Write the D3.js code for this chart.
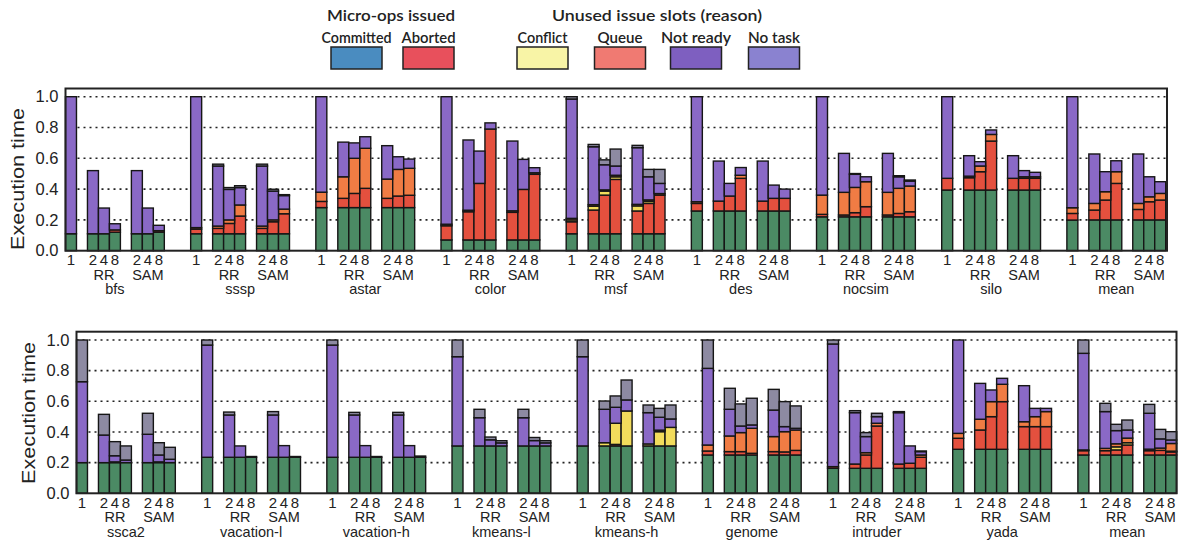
<!DOCTYPE html>
<html>
<head>
<meta charset="utf-8">
<script src="https://cdn.jsdelivr.net/npm/d3@7"></script>
<style>
  body { margin: 0; background: #fff; }
  svg { display: block; }
</style>
</head>
<body>
<div id="chart"></div>
<script>
// stacked execution time breakdown, two rows of benchmarks
// each benchmark: 1 core, then RR 2/4/8 and SAM 2/4/8

const seriesNames = ["Committed", "Aborted", "Conflict", "Queue", "Not ready", "No task"];
const barColors = ["#4b8a64", "#e4503e", "#f2dc5c", "#f07c44", "#8a69c6", "#8d8aa2"];
const legendColors = ["#4a8cc0", "#e8505c", "#f8f4a6", "#f07a72", "#7e5fc0", "#8a82d0"];
const barLabels = ["1", "2", "4", "8", "2", "4", "8"];
const schemeLabels = ["RR", "SAM"];
const yTicks = [0, 0.2, 0.4, 0.6, 0.8, 1.0];

const topBenchmarks = ["bfs", "sssp", "astar", "color", "msf", "des", "nocsim", "silo", "mean"];
const bottomBenchmarks = ["ssca2", "vacation-l", "vacation-h", "kmeans-l", "kmeans-h", "genome", "intruder", "yada", "mean"];

// top row, one list of 7 bars per benchmark
const topCommitted = [
  [.11, .11, .11, .12, .11, .11, .12],
  [.11, .11, .11, .11, .11, .11, .11],
  [.28, .28, .28, .28, .28, .28, .28],
  [.07, .07, .07, .07, .07, .07, .07],
  [.11, .11, .11, .11, .11, .11, .11],
  [.258, .258, .258, .258, .258, .258, .258],
  [.22, .22, .22, .22, .22, .22, .22],
  [.394, .394, .394, .394, .394, .394, .394],
  [.199, .2, .2, .2, .2, .2, .2]
];
const topAborted = [
  [0, 0, 0, .015, 0, 0, .01],
  [.03, .035, .067, .115, .035, .078, .13],
  [.04, .06, .092, .125, .06, .075, .08],
  [.092, .183, .367, .72, .179, .328, .426],
  [.078, .154, .251, .353, .148, .197, .251],
  [.049, .064, .097, .212, .064, .082, .082],
  [.016, .012, .027, .066, .012, .022, .033],
  [.076, .08, .119, .318, .076, .076, .076],
  [.043, .064, .129, .237, .068, .118, .129]
];
const topConflict = [
  [0, 0, 0, 0, 0, 0, 0],
  [0, 0, 0, 0, 0, 0, 0],
  [0, 0, 0, 0, 0, 0, 0],
  [0, 0, 0, 0, 0, 0, 0],
  [.012, .025, .026, .017, .033, .013, 0],
  [0, 0, 0, 0, 0, 0, 0],
  [0, 0, 0, 0, 0, 0, 0],
  [0, 0, 0, 0, 0, 0, 0],
  [0, 0, 0, 0, 0, 0, 0]
];
const topQueue = [
  [0, 0, 0, 0, 0, 0, 0],
  [.01, .015, .023, .072, .015, .012, .03],
  [.06, .14, .228, .26, .125, .173, .175],
  [.01, .01, 0, 0, .01, 0, .01],
  [.01, .01, .008, .01, .01, .01, .01],
  [.011, 0, 0, .02, 0, 0, 0],
  [.125, .147, .164, .162, .147, .163, .167],
  [0, .01, .037, .043, 0, .01, .01],
  [.037, .043, .054, .076, .039, .032, .043]
];
const topNotReady = [
  [.89, .41, .167, .04, .41, .167, .035],
  [.85, .39, .198, .113, .39, .187, .088],
  [.62, .225, .1, .075, .217, .082, .06],
  [.828, .456, .21, .04, .453, .195, .033],
  [.775, .376, .163, .06, .368, .15, .066],
  [.682, .26, .082, .05, .26, .086, .06],
  [.639, .253, .085, .032, .253, .075, .032],
  [.53, .133, .028, .029, .147, .04, .029],
  [.721, .321, .13, .071, .321, .13, .076]
];
const topNoTask = [
  [0, 0, 0, 0, 0, 0, 0],
  [0, .012, .012, .012, .012, .012, .006],
  [0, 0, 0, 0, 0, 0, 0],
  [0, 0, 0, 0, 0, 0, 0],
  [.015, .015, .032, .11, .015, .048, .091],
  [0, 0, 0, 0, 0, 0, 0],
  [0, 0, .005, 0, 0, .007, .007],
  [0, 0, 0, 0, 0, 0, 0],
  [0, 0, 0, 0, 0, 0, 0]
];

// bottom row
const bottomCommitted = [
  [.2, .2, .2, .2, .2, .2, .2],
  [.235, .235, .235, .235, .235, .235, .235],
  [.235, .235, .235, .235, .235, .235, .235],
  [.309, .309, .309, .309, .309, .309, .309],
  [.309, .309, .309, .309, .309, .309, .309],
  [.25, .25, .25, .25, .25, .25, .25],
  [.163, .163, .163, .163, .163, .163, .163],
  [.287, .287, .287, .287, .287, .287, .287],
  [.25, .25, .25, .25, .25, .25, .25]
];
const bottomAborted = [
  [0, 0, 0, 0, 0, 0, 0],
  [0, 0, 0, 0, 0, 0, 0],
  [0, 0, 0, 0, 0, 0, 0],
  [0, 0, 0, 0, 0, 0, 0],
  [0, 0, .01, 0, 0, 0, 0],
  [.026, .022, .022, .011, .022, .02, .03],
  [.011, .028, .087, .276, .028, .033, .072],
  [.072, .126, .213, .311, .148, .148, .148],
  [.028, .028, .033, .065, .028, .03, .02]
];
const bottomConflict = [
  [0, 0, .005, 0, 0, .005, 0],
  [0, 0, 0, 0, 0, 0, 0],
  [0, 0, 0, 0, 0, 0, 0],
  [0, 0, 0, 0, 0, 0, 0],
  [0, .021, .138, .228, .013, .093, .121],
  [0, 0, 0, 0, 0, 0, 0],
  [0, 0, 0, 0, 0, 0, 0],
  [0, 0, 0, 0, 0, 0, 0],
  [0, 0, .02, .015, 0, 0, .005]
];
const bottomQueue = [
  [0, 0, 0, 0, 0, 0, 0],
  [0, 0, 0, 0, 0, 0, 0],
  [0, 0, 0, 0, 0, 0, 0],
  [0, 0, 0, 0, 0, 0, 0],
  [0, 0, 0, 0, 0, .01, 0],
  [.039, .102, .124, .163, .098, .132, .133],
  [0, 0, .015, .018, 0, 0, .015],
  [.032, .07, .098, .113, .032, .065, .098],
  [.005, .015, .02, .03, .01, .015, .05]
];
const bottomNotReady = [
  [.528, .18, .04, .017, .185, .045, .022],
  [.732, .276, .074, .005, .276, .076, .005],
  [.732, .276, .076, .005, .276, .076, .008],
  [.582, .184, .04, .02, .184, .035, .02],
  [.582, .218, .104, .072, .204, .084, .055],
  [.5, .174, .043, .022, .173, .033, .011],
  [.8, .335, .105, .043, .335, .113, .022],
  [.609, .234, .076, .039, .235, .054, .021],
  [.63, .24, .086, .053, .234, .06, .023]
];
const bottomNoTask = [
  [.272, .135, .092, .092, .137, .08, .078],
  [.033, .019, 0, 0, .022, 0, 0],
  [.033, .017, 0, 0, .017, 0, 0],
  [.109, .055, .018, .014, .055, .02, .014],
  [.109, .054, .074, .13, .05, .058, .091],
  [.185, .137, .144, .174, .135, .163, .146],
  [.026, .013, .026, .022, .007, 0, .004],
  [0, 0, 0, 0, 0, 0, 0],
  [.087, .054, .041, .065, .058, .062, .054]
];

const width = 1178;
const height = 559;
const tickFont = "'Liberation Sans', Arial, sans-serif";
const legendFont = "Lato, 'Open Sans', sans-serif";

// slot positions of the 7 bars inside a benchmark group (in bar widths)
const slotPos = [0, 2, 3, 4, 6, 7, 8];
const groupStep = 11.4;
const slotCount = 8 * groupStep + 9;

const svg = d3.select("#chart").append("svg")
  .attr("width", width)
  .attr("height", height);

// legend
const legend = svg.append("g").attr("fill", "#222");
const legendBoxes = [331, 403, 517, 594.5, 670.5, 748.5];
const legendWidths = [70, 54, 50, 45, 70, 52];
legend.append("text")
  .attr("x", 391).attr("y", 21)
  .attr("text-anchor", "middle")
  .attr("font-family", legendFont).attr("font-size", 16).attr("font-weight", 600)
  .attr("textLength", 128).attr("lengthAdjust", "spacingAndGlyphs")
  .text("Micro-ops issued");
legend.append("text")
  .attr("x", 657).attr("y", 21)
  .attr("text-anchor", "middle")
  .attr("font-family", legendFont).attr("font-size", 16).attr("font-weight", 600)
  .attr("textLength", 210).attr("lengthAdjust", "spacingAndGlyphs")
  .text("Unused issue slots (reason)");

seriesNames.forEach((name, i) => {
  legend.append("rect")
    .attr("x", legendBoxes[i]).attr("y", 47)
    .attr("width", 51).attr("height", 22)
    .attr("fill", legendColors[i])
    .attr("stroke", "#222").attr("stroke-width", 1.5);
  legend.append("text")
    .attr("x", legendBoxes[i] + 25.5).attr("y", 42.5)
    .attr("text-anchor", "middle")
    .attr("font-family", legendFont).attr("font-size", 15).attr("font-weight", 600)
    .attr("textLength", legendWidths[i]).attr("lengthAdjust", "spacingAndGlyphs")
    .text(name);
});

// draws one row of benchmarks
const drawPanel = (opts) => {
  const { benchmarks, series, left, right, top, yZero, yOne, labelX, labelY } = opts;

  const x = d3.scaleLinear().domain([0, slotCount]).range([left, left + slotCount * 10.98]);
  const y = d3.scaleLinear().domain([0, 1]).range([yZero, yOne]);
  const g = svg.append("g");

  // dotted grid
  g.append("g")
    .selectAll("line")
    .data(yTicks.filter(t => t > 0))
    .enter()
    .append("line")
    .attr("x1", left).attr("x2", right)
    .attr("y1", d => y(d)).attr("y2", d => y(d))
    .attr("stroke", "#222").attr("stroke-width", 1.6)
    .attr("stroke-dasharray", "2,4");

  // y axis labels
  const yAxis = g.append("g")
    .attr("transform", "translate(" + left + ",0)")
    .call(d3.axisLeft(y).tickValues(yTicks).tickFormat(d3.format(".1f")).tickSize(0).tickPadding(7));
  yAxis.select(".domain").remove();
  yAxis.selectAll("text")
    .attr("font-family", tickFont).attr("font-size", 16.5).attr("fill", "#222");

  g.append("text")
    .attr("transform", "translate(" + labelX + "," + labelY + ") rotate(-90)")
    .attr("text-anchor", "middle")
    .attr("font-family", tickFont).attr("font-size", 18)
    .attr("textLength", 142).attr("lengthAdjust", "spacingAndGlyphs")
    .attr("fill", "#222")
    .text("Execution time");

  // one row per bar, then stack
  const rows = [];
  benchmarks.forEach((b, gi) => {
    barLabels.forEach((lab, bi) => {
      const row = { group: gi, bar: bi };
      seriesNames.forEach((s, si) => { row[s] = series[si][gi][bi]; });
      rows.push(row);
    });
  });
  const stacked = d3.stack().keys(seriesNames)(rows);
  const barX = d => x(d.data.group * groupStep + slotPos[d.data.bar]);

  g.append("g")
    .selectAll("g")
    .data(stacked)
    .enter()
    .append("g")
    .attr("fill", (d, i) => barColors[i])
    .selectAll("rect")
    .data(d => d.filter(p => p[1] - p[0] > 0))
    .enter()
    .append("rect")
    .attr("x", barX)
    .attr("width", x(1) - x(0))
    .attr("y", d => y(d[1]))
    .attr("height", d => y(d[0]) - y(d[1]))
    .attr("stroke", "#161616")
    .attr("stroke-width", 1.4);

  // frame
  g.append("rect")
    .attr("x", left).attr("y", top)
    .attr("width", right - left).attr("height", yZero - top)
    .attr("fill", "none").attr("stroke", "#222").attr("stroke-width", 2);

  // bar labels under each group
  const labels = g.append("g")
    .attr("font-family", tickFont).attr("fill", "#222")
    .attr("text-anchor", "middle");
  const bw = x(1) - x(0);
  benchmarks.forEach((b, gi) => {
    const base = gi * groupStep;
    slotPos.forEach((s, bi) => {
      labels.append("text")
        .attr("x", x(base + s) + bw / 2).attr("y", yZero + 14.5)
        .attr("font-size", 15)
        .text(barLabels[bi]);
    });
    schemeLabels.forEach((sch, si) => {
      labels.append("text")
        .attr("x", x(base + slotPos[1 + si * 3] + 1.5)).attr("y", yZero + 29)
        .attr("font-size", 14.5)
        .text(sch);
    });
    labels.append("text")
      .attr("x", x(base + 4.5)).attr("y", yZero + 43.5)
      .attr("font-size", 14.5)
      .text(b);
  });
};

drawPanel({
  benchmarks: topBenchmarks,
  series: [topCommitted, topAborted, topConflict, topQueue, topNotReady, topNoTask],
  left: 65.5, right: 1167, top: 88.5, yZero: 250.7, yOne: 96.7,
  labelX: 24, labelY: 179
});

drawPanel({
  benchmarks: bottomBenchmarks,
  series: [bottomCommitted, bottomAborted, bottomConflict, bottomQueue, bottomNotReady, bottomNoTask],
  left: 76.5, right: 1176.5, top: 331.7, yZero: 493.3, yOne: 340,
  labelX: 35, labelY: 413
});
</script>
</body>
</html>
